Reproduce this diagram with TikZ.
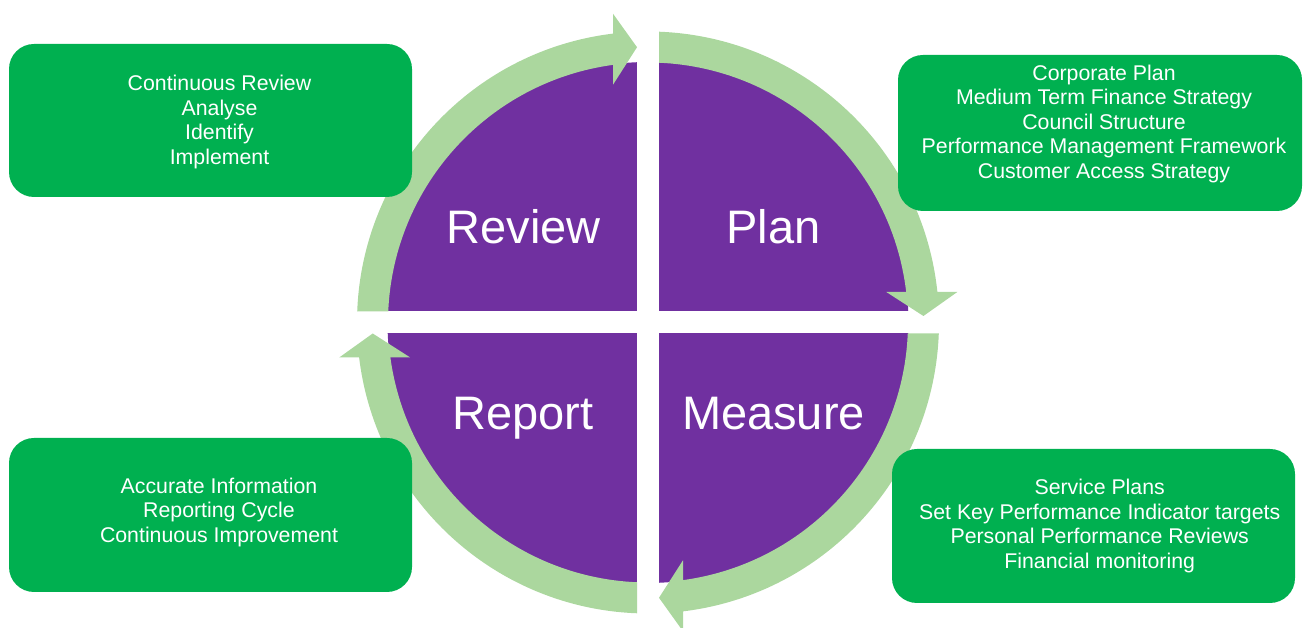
\documentclass[tikz,border=0pt]{standalone}
\usepackage{fontspec}
\setmainfont{Liberation Sans}
\definecolor{boxgreen}{RGB}{0,176,80}
\definecolor{discpurple}{RGB}{112,48,160}
\definecolor{ringgreen}{RGB}{171,215,158}
\tikzset{
  infobox/.style={fill=boxgreen, rounded corners=25pt, inner sep=0pt, outer sep=0pt},
  infotext/.style={text=white, align=center, font=\fontsize{21.3pt}{24.5pt}\selectfont, inner sep=0pt},
  biglabel/.style={text=white, font=\fontsize{47pt}{56pt}\selectfont, inner sep=0pt, anchor=base},
  ringarrow/.style={fill=ringgreen}
}
\begin{document}
\begin{tikzpicture}[x=1pt,y=1pt]
\useasboundingbox (0,0) rectangle (1308,628);
\coordinate (C) at (648,305.5);
% purple disc
\fill[discpurple] (C) circle (260.5);
% white cross gaps
\fill[white] (637,10) rectangle (659,600);
\fill[white] (370,294.5) rectangle (930,316.5);
% ring arrows
\begin{scope}[shift={(C)}, rotate=0]
  \fill[ringarrow] (177.575:260) -- (177.834:291) arc[start angle=177.834, end angle=96.908, radius=291]
    -- (-35,308.77) -- (-11,275.28) -- (-35,237.77) -- (97.737:260)
    arc[start angle=97.737, end angle=177.575, radius=260] -- cycle;
\end{scope}
\begin{scope}[shift={(C)}, rotate=-90]
  \fill[ringarrow] (177.575:260) -- (177.834:291) arc[start angle=177.834, end angle=96.017, radius=291]
    -- (-30.5,309.31) -- (-6.5,275.42) -- (-30.5,238.31) -- (96.737:260)
    arc[start angle=96.737, end angle=177.575, radius=260] -- cycle;
\end{scope}
\begin{scope}[shift={(C)}, rotate=-180]
  \fill[ringarrow] (177.575:260) -- (177.834:291) arc[start angle=177.834, end angle=96.908, radius=291]
    -- (-35,308.77) -- (-11,275.28) -- (-35,237.77) -- (97.737:260)
    arc[start angle=97.737, end angle=177.575, radius=260] -- cycle;
\end{scope}
\begin{scope}[shift={(C)}, rotate=-270]
  \fill[ringarrow] (177.575:260) -- (177.834:291) arc[start angle=177.834, end angle=96.908, radius=291]
    -- (-35,308.77) -- (-11,275.28) -- (-35,237.77) -- (97.737:260)
    arc[start angle=97.737, end angle=177.575, radius=260] -- cycle;
\end{scope}
% quadrant labels
\node[biglabel] (review) at (523.5,384) {Review};
\node[biglabel] (plan) at (773.5,384) {Plan};
\node[biglabel] (report) at (523,198) {Report};
\node[biglabel] (measure) at (773.5,198) {Measure};
% boxes
\node[infobox, minimum width=403pt, minimum height=153pt] (tlbox) at (210.5,507.5) {};
\node[infobox, minimum width=404pt, minimum height=156pt] (trbox) at (1100,495) {};
\node[infobox, minimum width=403pt, minimum height=154pt] (blbox) at (210.5,113) {};
\node[infobox, minimum width=403pt, minimum height=154pt] (brbox) at (1093.5,102) {};
\node[infotext] (tltext) at (219.5,506) {Continuous Review\\Analyse\\Identify\\Implement};
\node[infotext] (trtext) at (1104,504.4) {Corporate Plan\\Medium Term Finance Strategy\\Council Structure\\Performance Management Framework\\Customer Access Strategy};
\node[infotext] (bltext) at (219,116) {Accurate Information\\Reporting Cycle\\Continuous Improvement};
\node[infotext] (brtext) at (1099.7,102) {Service Plans\\Set Key Performance Indicator targets\\Personal Performance Reviews\\Financial monitoring};
\end{tikzpicture}
\end{document}
